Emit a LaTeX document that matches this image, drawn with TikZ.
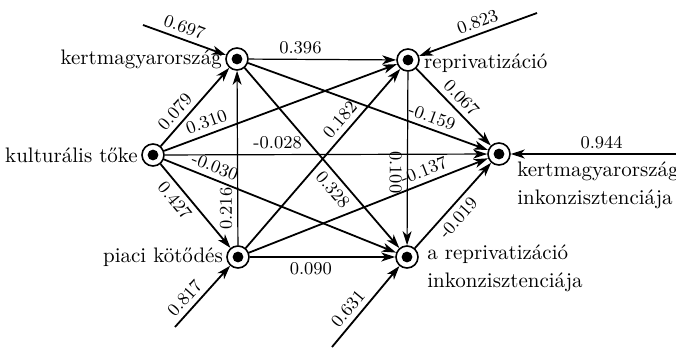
\documentclass[tikz,border=0pt]{standalone}
\usetikzlibrary{arrows.meta}
\begin{document}
\begin{tikzpicture}[x=0.5pt,y=-0.5pt,
  var/.style={circle,draw,line width=0.8pt,minimum size=11pt,inner sep=0pt,
    path picture={\fill (path picture bounding box.center) circle (2.7pt);}},
  lab/.style={font=\fontsize{10.5}{14}\selectfont, inner sep=1pt},
  coef/.style={font=\fontsize{9}{10}\selectfont, inner sep=2.5pt},
  arr/.style={-{Stealth[length=7pt,width=4.5pt,inset=2pt]}, line width=0.9pt},
  thinarr/.style={arr, line width=0.6pt}
]
\useasboundingbox (0,0) rectangle (676,348);

\node[var] (K) at (237,59) {};
\node[var] (R) at (408,60) {};
\node[var] (C) at (153,155) {};
\node[var] (KI) at (499,154) {};
\node[var] (P) at (238,257) {};
\node[var] (RI) at (407,257) {};

\node[lab,anchor=east] (Kl) at ([xshift=-0.5pt]K.west) {kertmagyarország};
\node[lab,anchor=east] (Cl) at ([xshift=-0.5pt]C.west) {kulturális tőke};
\node[lab,anchor=east] (Pl) at ([xshift=-0.5pt]P.west) {piaci kötődés};
\node[lab,anchor=west] (Rl) at ([xshift=1pt,yshift=-1.5pt]R.east) {reprivatizáció};
\node[lab,anchor=north west,align=left] (KIl) at (515,159) {kertmagyarország\\inkonzisztenciája};
\node[lab,anchor=north west,align=left] (RIl) at (425,242) {a reprivatizáció\\inkonzisztenciája};

\draw[thinarr] (K) -- (R) node[coef,sloped,pos=0.35,above] {0.396};
\draw[arr] (C) -- (K) node[coef,sloped,pos=0.34,above] {0.079};
\draw[arr] (C) -- (R) node[coef,sloped,pos=0.2,above] {0.310};
\draw[thinarr] (C) -- (KI) node[coef,sloped,pos=0.35,above] {-0.028};
\draw[arr] (C) -- (RI) node[coef,sloped,pos=0.2,above] {-0.030};
\draw[arr] (C) -- (P) node[coef,sloped,pos=0.34,below] {0.427};
\draw[thinarr] (P) -- (K) node[coef,rotate=90,pos=0.21,above] {0.216};
\draw[arr] (P) -- (R) node[coef,sloped,pos=0.67,above] {0.182};
\draw[arr] (K) -- (RI) node[coef,sloped,pos=0.63,below] {0.328};
\draw[thinarr] (R) -- (RI) node[coef,rotate=-90,pos=0.58,below] {0.100};
\draw[arr] (K) -- (KI) node[coef,sloped,pos=0.75,above] {-0.159};
\draw[arr] (R) -- (KI) node[coef,sloped,pos=0.49,above] {0.067};
\draw[arr] (P) -- (KI) node[coef,sloped,pos=0.75,above] {-0.137};
\draw[arr] (RI) -- (KI) node[coef,sloped,pos=0.45,below] {-0.019};
\draw[thinarr] (P) -- (RI) node[coef,sloped,pos=0.42,below] {0.090};

\coordinate (e1) at (143,25);
\coordinate (e2) at (537,13);
\coordinate (e3) at (676,154);
\coordinate (e4) at (175,327);
\coordinate (e5) at (332,347);
\draw[arr] (e1) -- (K) node[coef,sloped,pos=0.45,above] {0.697};
\draw[arr] (e2) -- (R) node[coef,rotate=20,pos=0.47,above] {0.823};
\draw[thinarr] (e3) -- (KI) node[coef,pos=0.45,above] {0.944};
\draw[arr] (e4) -- (P) node[coef,sloped,pos=0.34,above] {0.817};
\draw[arr] (e5) -- (RI) node[coef,sloped,pos=0.375,above] {0.631};
\end{tikzpicture}
\end{document}
